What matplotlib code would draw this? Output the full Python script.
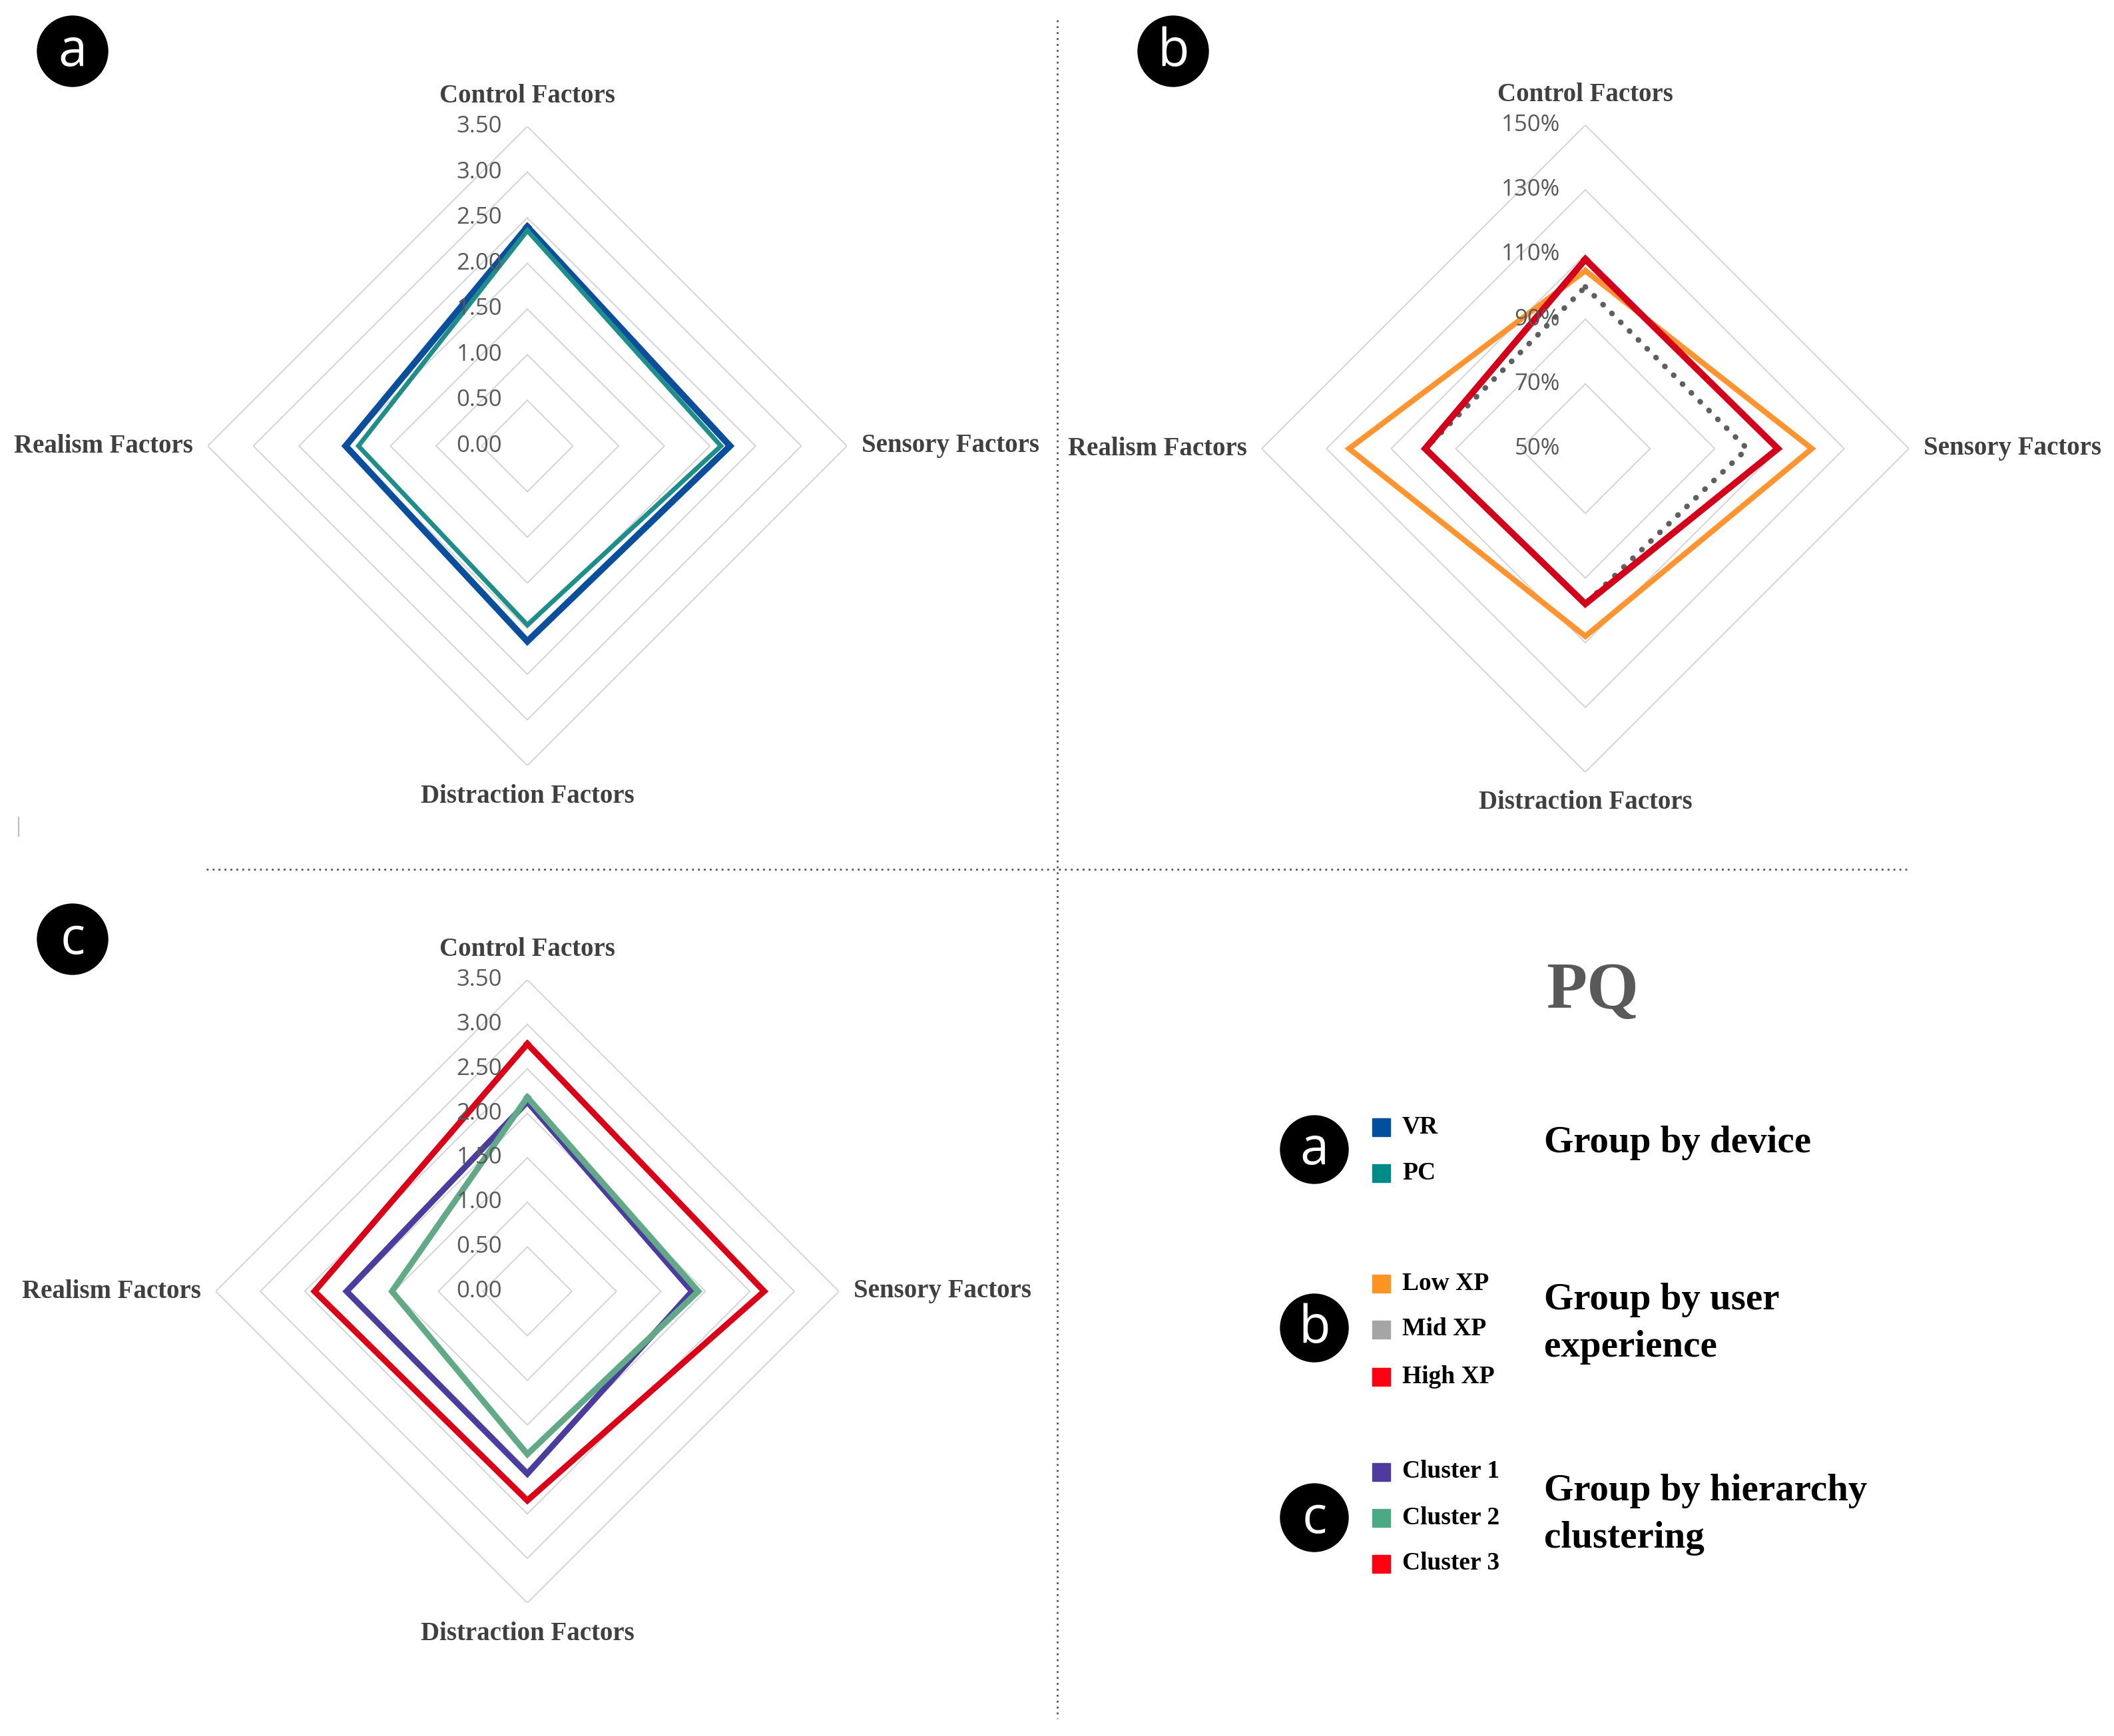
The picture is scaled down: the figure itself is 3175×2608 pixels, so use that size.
import numpy as np
import matplotlib
matplotlib.use('Agg')
import matplotlib.pyplot as plt
from matplotlib.patches import Circle, Rectangle

W, H = 3175, 2608

categories = ['Control Factors', 'Sensory Factors', 'Distraction Factors', 'Realism Factors']

# panel a: group by device
vr = [2.40, 2.22, 2.14, 1.99]
pc = [2.36, 2.12, 1.96, 1.85]

# panel b: group by user experience (%)
low_xp = [105, 120, 108, 123]
mid_xp = [100, 100, 98, 99.5]
high_xp = [108.5, 109.5, 98, 99.5]

# panel c: group by hierarchy clustering
cluster1 = [2.13, 1.85, 2.05, 2.03]
cluster2 = [2.18, 1.92, 1.83, 1.52]
cluster3 = [2.78, 2.66, 2.35, 2.39]

ticks_score = [0.0, 0.5, 1.0, 1.5, 2.0, 2.5, 3.0, 3.5]
ticks_pct = [50, 70, 90, 110, 130, 150]

LABEL_FONT = 'Liberation Serif'
TICK_FONT = 'Open Sans'

fig = plt.figure(figsize=(W / 100, H / 100), dpi=100)
fig.patch.set_facecolor('white')

# overlay in pixel coords for dividers, badges and legend
bg = fig.add_axes([0, 0, 1, 1])
bg.set_xlim(0, W)
bg.set_ylim(H, 0)
bg.axis('off')

angles = np.array([0, np.pi / 2, np.pi, 3 * np.pi / 2])
closed = np.append(angles, angles[0])


def radar(cx, cy, R, rmin, rmax, ticks, fmt, series):
    ax = fig.add_axes([(cx - R) / W, 1 - (cy + R) / H, 2 * R / W, 2 * R / H],
                      projection='polar')
    ax.set_facecolor('none')
    ax.set_theta_zero_location('N')
    ax.set_theta_direction(-1)
    ax.set_ylim(rmin, rmax)
    ax.grid(False)
    ax.set_xticks([])
    ax.set_yticks([])
    ax.spines['polar'].set_visible(False)
    for t in ticks:
        if t > rmin:
            ax.plot(closed, [t] * 5, color='#D4D4D4', lw=1.4, zorder=1)
        ax.annotate(fmt(t), xy=(0, t), xytext=(-38, 0), textcoords='offset pixels',
                    ha='right', va='center', fontsize=25, color='#595959',
                    family=TICK_FONT, zorder=3)
    for vals, color, kw in series:
        ax.plot(closed, list(vals) + [vals[0]], color=color, zorder=2, **kw)
    offs = [(0, 46, 'center', 'center'), (22, 0, 'left', 'center'),
            (0, -46, 'center', 'center'), (-22, 0, 'right', 'center')]
    for a, lab, (dx, dy, ha, va) in zip(angles, categories, offs):
        ax.annotate(lab, xy=(a, rmax), xytext=(dx, dy), textcoords='offset pixels',
                    ha=ha, va=va, fontsize=28, fontweight='bold', color='#404040',
                    family=LABEL_FONT, annotation_clip=False)
    return ax


def solid(lw):
    return dict(lw=lw, solid_joinstyle='miter')


radar(792, 670, 480, 0, 3.5, ticks_score, lambda v: '%.2f' % v,
      [(vr, '#0B4F9C', solid(7)), (pc, '#1F8E8A', solid(5))])

radar(2381, 674, 486, 50, 150, ticks_pct, lambda v: '%d%%' % v,
      [(low_xp, '#FF9430', solid(6)),
       (mid_xp, '#5F5F5F', dict(lw=6, linestyle=(0, (0.05, 2.2)), dash_capstyle='round')),
       (high_xp, '#D2001A', solid(7))])

radar(792, 1940, 468, 0, 3.5, ticks_score, lambda v: '%.2f' % v,
      [(cluster3, '#DA0018', solid(6.5)),
       (cluster1, '#4B3D9E', solid(6.5)),
       (cluster2, '#62A988', solid(6.5))])

# dotted dividers
bg.plot([1588, 1588], [30, 2582], color='#555555', lw=2, linestyle=(0, (1, 2.2)))
bg.plot([310, 2865], [1306, 1306], color='#555555', lw=2, linestyle=(0, (1, 2.2)))
bg.plot([28, 28], [1228, 1256], color='#BBBBBB', lw=1.5)


def badge(x, y, letter, r=53):
    bg.add_patch(Circle((x, y), r, color='black', zorder=5))
    bg.text(x, y + 2, letter, ha='center', va='center', color='white',
            fontsize=56, family=TICK_FONT, zorder=6)


badge(109, 77, 'a')
badge(1762, 77, 'b')
badge(109, 1411, 'c')

# legend block
bg.text(2392, 1490, 'PQ', ha='center', va='center', fontsize=72, fontweight='bold',
        color='#595959', family=LABEL_FONT)

groups = [
    (1727, 'a', [(1693, 'VR', '#0050A0'), (1762, 'PC', '#008B87')],
     [(1717, 'Group by device')]),
    (1995, 'b', [(1928, 'Low XP', '#FF9424'), (1997, 'Mid XP', '#A5A5A5'),
                 (2068, 'High XP', '#FF0013')],
     [(1953, 'Group by user'), (2024, 'experience')]),
    (2280, 'c', [(2211, 'Cluster 1', '#4F3B9D'), (2280, 'Cluster 2', '#4CA985'),
                 (2349, 'Cluster 3', '#FF0013')],
     [(2240, 'Group by hierarchy'), (2311, 'clustering')]),
]
for by, letter, items, titles in groups:
    badge(1974, by, letter, r=51)
    for iy, lab, col in items:
        bg.add_patch(Rectangle((2061, iy - 13), 27, 27, color=col, zorder=5))
        bg.text(2106, iy, lab, ha='left', va='center', fontsize=27, fontweight='bold',
                color='black', family=LABEL_FONT)
    for ty, title in titles:
        bg.text(2319, ty, title, ha='left', va='center', fontsize=41, fontweight='bold',
                color='black', family=LABEL_FONT)

fig.savefig('out.png', dpi=100, facecolor='white')
